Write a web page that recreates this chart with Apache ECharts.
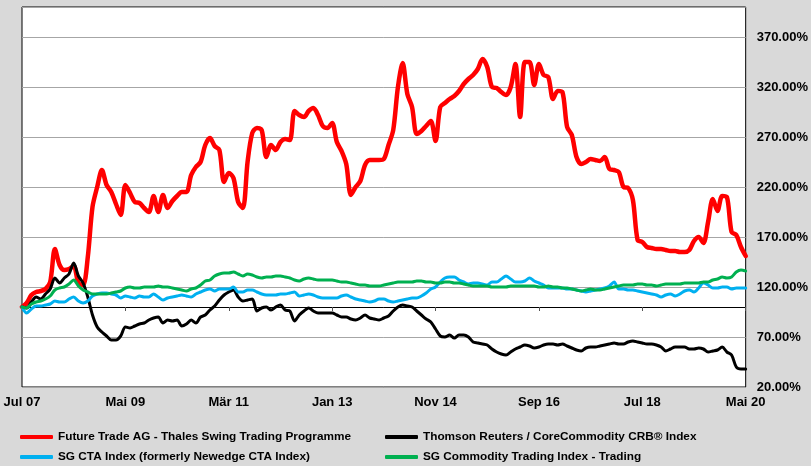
<!DOCTYPE html>
<html>
<head>
<meta charset="utf-8">
<script src="https://cdn.jsdelivr.net/npm/echarts@6/dist/echarts.min.js"></script>
<style>
html,body{margin:0;padding:0;background:#d9d9d9;}
#c{width:811px;height:466px;}
</style>
</head>
<body>
<div id="c"></div>
<script>
// Month labels (German), Jul 2007 .. Mai 2020
const monthNames = ['Jan','Feb','Mär','Apr','Mai','Jun','Jul','Aug','Sep','Okt','Nov','Dez'];
const startYear = 2007, startMonth = 6, monthCount = 155;
const categories = [];
for (let k = 0; k < monthCount; k++) {
  const m = (startMonth + k) % 12;
  const y = startYear + Math.floor((startMonth + k) / 12);
  categories.push(monthNames[m] + ' ' + String(y % 100).padStart(2, '0'));
}

const seriesNames = [
  'Future Trade AG - Thales Swing Trading Programme',
  'Thomson Reuters / CoreCommodity CRB® Index',
  'SG CTA Index (formerly Newedge CTA Index)',
  'SG Commodity Trading Index - Trading'
];

const futureTrade = [100,104,112,115,116,118,125,158,142,137,138,141,124,122,150,200,220,237,222,215,
203,192,222,214,205,204,199,195,211,195,212,199,206,211,215,215,232,240,245,262,
269,261,257,225,234,229,205,199,245,274,279,277,250,262,257,265,268,267,296,292,
290,296,299,292,281,279,284,265,256,243,212,220,226,242,247,247,247,248,262,277,
320,344,313,300,273,276,281,286,266,300,304,308,311,316,323,328,332,338,348,340,
320,319,315,312,320,343,290,345,345,322,343,332,330,308,316,315,280,272,250,243,
245,248,247,246,250,238,237,235,220,219,207,167,165,160,159,158,158,157,156,156,
155,155,157,166,170,164,185,208,196,211,210,175,172,160,151];

const crb = [100,99,105,110,108,113,118,129,124,129,133,144,131,124,110,92,80,75,71,67,
67,71,80,79,81,83,84,87,89,90,84,87,86,87,81,83,87,84,90,92,
97,101,107,112,115,117,110,106,107,108,96,99,100,97,100,102,97,96,86,92,
96,99,96,94,94,94,94,92,90,90,88,87,89,92,89,88,87,89,91,96,
100,102,101,100,96,92,88,85,78,71,70,72,69,72,72,70,65,64,63,62,
58,55,53,52,55,58,60,62,61,59,60,62,63,63,62,63,61,59,57,56,
59,60,60,61,62,63,64,63,63,65,66,65,64,63,63,62,60,56,58,60,
60,60,58,58,59,58,55,56,57,60,55,52,40,38,38];

const sgCta = [100,94,98,101,101,102,103,106,105,105,108,110,106,104,106,111,113,114,114,113,
112,109,111,110,109,111,110,110,113,110,107,109,110,111,112,111,110,113,115,117,
118,116,118,118,118,120,115,115,117,117,115,113,112,112,112,113,113,114,115,111,
112,113,112,110,109,109,109,109,111,112,110,108,107,106,105,106,108,108,106,105,
106,107,108,109,109,111,114,118,120,125,129,130,130,127,125,123,124,124,123,122,
125,125,128,131,128,125,125,126,129,126,124,122,119,119,119,119,118,118,117,116,
115,116,117,118,119,121,125,118,118,117,117,116,115,114,113,112,110,112,113,111,
113,116,117,115,119,124,122,119,119,120,120,118,119,119,119];

const sgCommodity = [100,99,103,105,106,108,111,117,119,120,123,127,121,117,115,113,113,113,113,114,
115,116,119,120,119,119,120,120,120,121,120,120,119,118,117,116,118,119,122,126,
127,131,133,134,134,135,133,131,133,132,130,129,130,130,131,131,130,129,127,126,
128,129,128,127,127,127,127,126,125,125,124,123,122,122,121,121,121,122,123,124,
125,125,125,125,126,126,125,125,124,124,125,125,124,124,123,122,121,121,121,121,
120,120,120,120,121,121,121,121,121,121,120,120,121,120,120,119,119,118,117,116,
117,118,117,117,118,119,120,121,122,122,122,123,123,122,122,121,122,123,123,123,
123,124,124,124,124,125,125,127,128,130,129,130,135,137,136];

const yTicks = {min: 20, max: 400, step: 50};
const colors = ['#ff0000', '#000000', '#00b0f0', '#00b050'];
const widths = [4.5, 3, 3, 3];
const dataSets = [futureTrade, crb, sgCta, sgCommodity];

const FONT = '"Liberation Sans", Arial, sans-serif';
const chart = echarts.init(document.getElementById('c'), null, {renderer: 'canvas'});

const legendPos = [
  {left: 20, top: 431},
  {left: 385, top: 431},
  {left: 20, top: 451},
  {left: 385, top: 451}
];

chart.setOption({
  backgroundColor: '#d9d9d9',
  animation: false,
  grid: {
    left: 22, right: 64, top: 7, bottom: 79,
    show: true, backgroundColor: '#ffffff', borderColor: '#000000', borderWidth: 1
  },
  legend: seriesNames.map((n, i) => ({
    data: [n],
    left: legendPos[i].left, top: legendPos[i].top,
    padding: 0,
    icon: 'roundRect', itemWidth: 33, itemHeight: 4, itemGap: 0,
    textStyle: {fontFamily: FONT, fontSize: 11.8, fontWeight: 'bold', color: '#000', padding: [0, 0, 0, 0]},
    selectedMode: false
  })),
  xAxis: [
    {
      type: 'category', data: categories, boundaryGap: false,
      axisLine: {show: false}, axisTick: {show: false},
      splitLine: {show: false},
      axisLabel: {interval: 21, color: '#000', fontFamily: FONT, fontSize: 13, fontWeight: 'bold', margin: 9}
    },
    {
      type: 'category', data: categories, boundaryGap: false,
      position: 'bottom', offset: -80,
      axisLine: {show: true, lineStyle: {color: '#000', width: 1}},
      axisTick: {show: true, interval: 21, length: 4, lineStyle: {color: '#555'}},
      axisLabel: {show: false},
      splitLine: {show: false}
    }
  ],
  yAxis: {
    type: 'value', position: 'right',
    min: yTicks.min, max: yTicks.max, interval: yTicks.step,
    axisLine: {show: false}, axisTick: {show: false},
    splitLine: {show: true, lineStyle: {color: '#a6a6a6', width: 1}},
    axisLabel: {
      color: '#000', fontFamily: FONT, fontSize: 13, fontWeight: 'bold', margin: 11,
      formatter: v => (v >= yTicks.max ? '' : v.toFixed(2) + '%')
    }
  },
  series: seriesNames.map((n, i) => ({
    name: n, type: 'line', data: dataSets[i],
    xAxisIndex: 0,
    showSymbol: false, symbol: 'none', smooth: 0.3,
    itemStyle: {color: colors[i]},
    lineStyle: {color: colors[i], width: widths[i], cap: 'round', join: 'round'},
    z: 2 + i
  }))
});
</script>
</body>
</html>
